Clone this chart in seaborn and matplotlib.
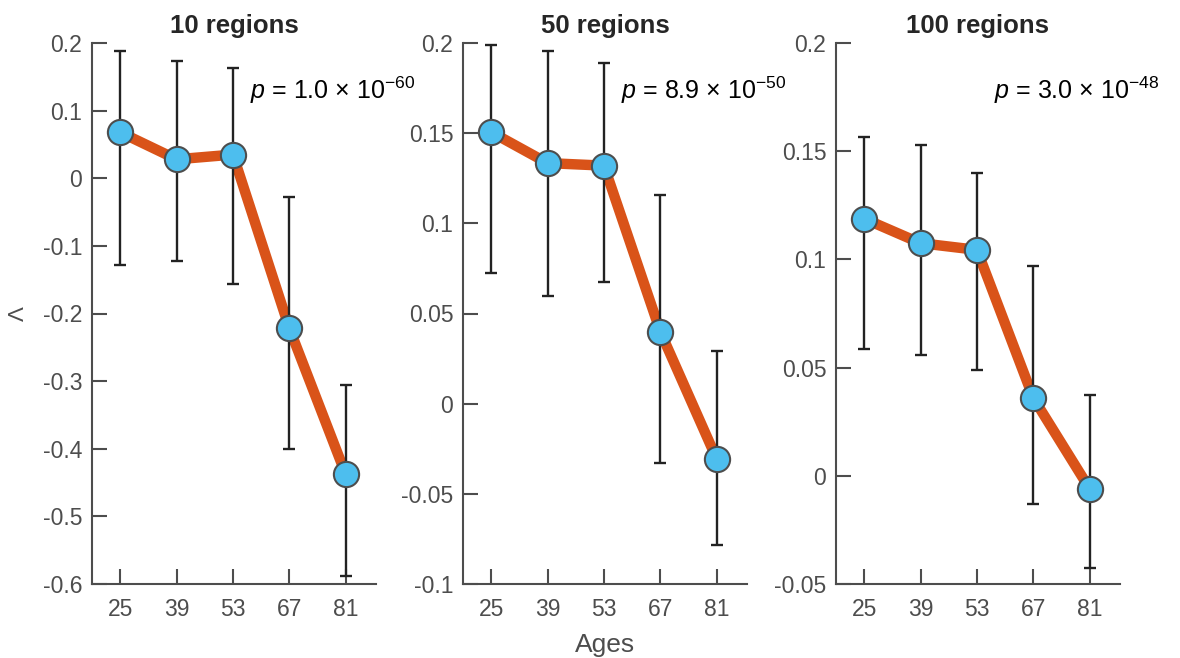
import numpy as np
import pandas as pd
import seaborn as sns
import matplotlib.pyplot as plt

# values
ages = [25, 39, 53, 67, 81]
titles = ["10 regions", "50 regions", "100 regions"]
p_texts = [r"$p$ = 1.0 × 10$^{-60}$", r"$p$ = 8.9 × 10$^{-50}$", r"$p$ = 3.0 × 10$^{-48}$"]

lam_10 = [0.068, 0.028, 0.035, -0.222, -0.438]
lo_10 = [-0.129, -0.122, -0.157, -0.400, -0.588]
hi_10 = [0.188, 0.174, 0.163, -0.027, -0.306]

lam_50 = [0.1506, 0.1334, 0.1320, 0.0399, -0.0307]
lo_50 = [0.0724, 0.0598, 0.0674, -0.0328, -0.0786]
hi_50 = [0.1987, 0.1953, 0.1890, 0.1156, 0.0293]

lam_100 = [0.1188, 0.1075, 0.1044, 0.0359, -0.0061]
lo_100 = [0.0587, 0.0559, 0.0490, -0.0130, -0.0426]
hi_100 = [0.1564, 0.1527, 0.1399, 0.0971, 0.0374]

ylims = [(-0.6, 0.2), (-0.1, 0.2), (-0.05, 0.2)]
yticks = [np.round(np.arange(-0.6, 0.21, 0.1), 2),
          np.round(np.arange(-0.1, 0.21, 0.05), 2),
          np.round(np.arange(-0.05, 0.21, 0.05), 2)]

sns.set_style("white")
plt.rcParams['font.family'] = ['Liberation Sans', 'DejaVu Sans']
plt.rcParams['mathtext.fontset'] = 'custom'
plt.rcParams['mathtext.rm'] = 'Liberation Sans'
plt.rcParams['mathtext.it'] = 'Liberation Sans:italic'

axc = '#4d4d4d'
fig = plt.figure(figsize=(11.8, 6.58), dpi=100)
lefts = [92, 463, 836]
axes = [fig.add_axes([l / 1180, 74 / 658, 284 / 1180, 541 / 658]) for l in lefts]

series = [(lam_10, lo_10, hi_10), (lam_50, lo_50, hi_50), (lam_100, lo_100, hi_100)]

for i, ax in enumerate(axes):
    lam, lo, hi = series[i]
    df = pd.DataFrame({"age": ages, "lam": lam})
    sns.lineplot(data=df, x="age", y="lam", ax=ax, color='#D95319', lw=7.5, zorder=1)
    yerr = [np.array(lam) - np.array(lo), np.array(hi) - np.array(lam)]
    ax.errorbar(ages, lam, yerr=yerr, fmt='none', ecolor='#222222', elinewidth=1.7,
                capsize=4.5, capthick=1.7, zorder=2)
    sns.scatterplot(data=df, x="age", y="lam", ax=ax, s=330, color='#4DBEEE',
                    edgecolor='#4d4d4d', linewidth=1.5, zorder=3)

    ax.set_xlim(18, 88.5)
    ax.set_ylim(*ylims[i])
    ax.set_xticks(ages)
    ax.set_yticks(yticks[i])
    ax.set_yticklabels([('%g' % v) if abs(v) > 1e-9 else '0' for v in yticks[i]])
    sns.despine(ax=ax)
    for s in ['left', 'bottom']:
        ax.spines[s].set_color(axc)
        ax.spines[s].set_linewidth(1.5)
    ax.tick_params(direction='in', length=11, width=1.5, color=axc,
                   labelcolor=axc, labelsize=16.5, bottom=True, left=True)
    ax.tick_params(axis='y', pad=7)
    ax.tick_params(axis='x', pad=10)
    ax.set_xlabel("")
    ax.set_ylabel("")
    ax.set_title(titles[i], fontsize=18.5, fontweight='bold', color='#262626', pad=7)
    ax.text(0.555, 0.912, p_texts[i], transform=ax.transAxes, fontsize=18,
            color='black', va='center', ha='left', clip_on=False)
    ax.patch.set_alpha(0)

axes[0].set_ylabel("Λ", fontsize=16, color=axc, labelpad=10)
axes[1].set_xlabel("Ages", fontsize=19, color=axc, labelpad=9)

fig.savefig("out.png", dpi=100)
